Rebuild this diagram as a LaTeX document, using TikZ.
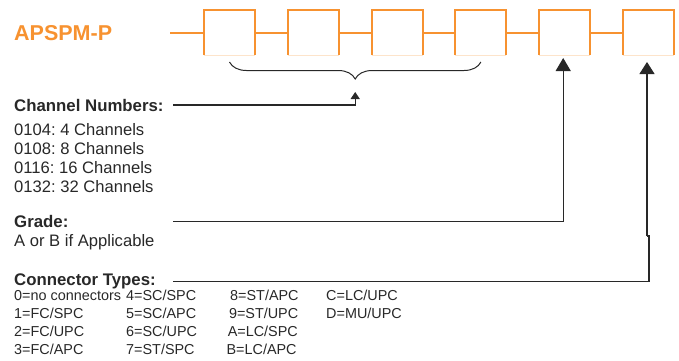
\documentclass[tikz,border=0pt]{standalone}
\usepackage{fontspec}
\setmainfont{Liberation Sans}
\usetikzlibrary{arrows.meta,decorations.pathreplacing,calc}
\definecolor{apsorange}{RGB}{247,146,48}
\definecolor{txtgray}{RGB}{40,40,40}
\frenchspacing
\begin{document}
\begin{tikzpicture}[x=1pt,y=-1pt,
    port/.style = {rectangle,minimum width=51pt,minimum height=45pt,inner sep=0pt,outer sep=0pt},
    head/.style = {anchor=base west,inner sep=0pt,text=txtgray,font=\fontsize{16.8}{19}\selectfont\bfseries},
    lbl/.style = {anchor=base west,inner sep=0pt,text=txtgray,font=\fontsize{16.6}{19}\selectfont},
    small/.style = {anchor=base west,inner sep=0pt,text=txtgray,font=\fontsize{14.4}{17}\selectfont},
    leader/.style = {draw=txtgray,line width=1.2pt}]
\useasboundingbox (0,0) rectangle (679,360);
\node[anchor=base west,inner sep=0pt,text=apsorange,font=\fontsize{21.5}{24}\selectfont\bfseries] (title) at (14,40) {APSPM-P};
\coordinate (lead) at (170,32.5);
\foreach \i in {1,...,6} \node[port] (port\i) at ({229.5+83.8*(\i-1)},32.5) {};
\foreach \i in {1,...,6} {
    \draw[apsorange!25,line width=1pt] (port\i.south west) -- (port\i.south east);
    \draw[apsorange,line width=2pt] (port\i.south west) |- (port\i.north east) -- (port\i.south east);
}
\draw[apsorange,line width=2pt] (lead) -- (port1.west);
\foreach \i [count=\j from 2] in {1,...,5} \draw[apsorange,line width=2pt] (port\i.east) -- (port\j.west);
\draw[txtgray,line width=1pt,decorate,decoration={brace,mirror,amplitude=17pt}] ([yshift=-7pt]port1.south) -- ([yshift=-7pt]port4.south);
\coordinate (bracetip) at ($(port2.south east)!0.5!(port3.south west)+(0,25)$);
\node[head] (chan) at (14,111) {Channel Numbers:};
\foreach \t [count=\k from 0] in {0104: 4 Channels,0108: 8 Channels,0116: 16 Channels,0132: 32 Channels}
    \node[lbl] (chan\k) at (14,{135+19.1*\k}) {\t};
\node[head] (grade) at (14,227) {Grade:};
\node[lbl] (gradetxt) at (14,246) {A or B if Applicable};
\node[head] (conn) at (14,285) {Connector Types:};
\foreach \a/\b/\c/\d [count=\k from 0] in {{0=no connectors}/{4=SC/SPC}/{8=ST/APC}/{C=LC/UPC},{1=FC/SPC}/{5=SC/APC}/{9=ST/UPC}/{D=MU/UPC},{2=FC/UPC}/{6=SC/UPC}/{A=LC/SPC}/{},{3=FC/APC}/{7=ST/SPC}/{B=LC/APC}/{}} {
    \node[small] (ta\k) at (14,{300+18*\k}) {\a};
    \node[small] (tb\k) at (126,{300+18*\k}) {\b};
    \node[small] (tc\k) at ({230-1.2*\k},{300+18*\k}) {\c};
    \node[small] (td\k) at (326,{300+18*\k}) {\d};
}
\coordinate (chanline) at (173,105);
\coordinate (gradeline) at (173,221.5);
\coordinate (connline) at (173,281.5);
\coordinate (connjog) at (649,236);
\draw[leader,-{Triangle[width=9pt,length=7pt]}] (chanline) -| ([yshift=-12pt]bracetip);
\draw[leader,-{Triangle[width=15pt,length=13pt]},shorten >=3pt] (gradeline) -| ([xshift=-1.5pt]port5.south);
\draw[leader] (connline) -| (connjog) -- ++(-2,0);
\draw[leader,-{Triangle[width=15pt,length=12pt]},shorten >=7pt] ([xshift=-2pt]connjog) -- ([xshift=-1.5pt]port6.south);
\end{tikzpicture}
\end{document}
